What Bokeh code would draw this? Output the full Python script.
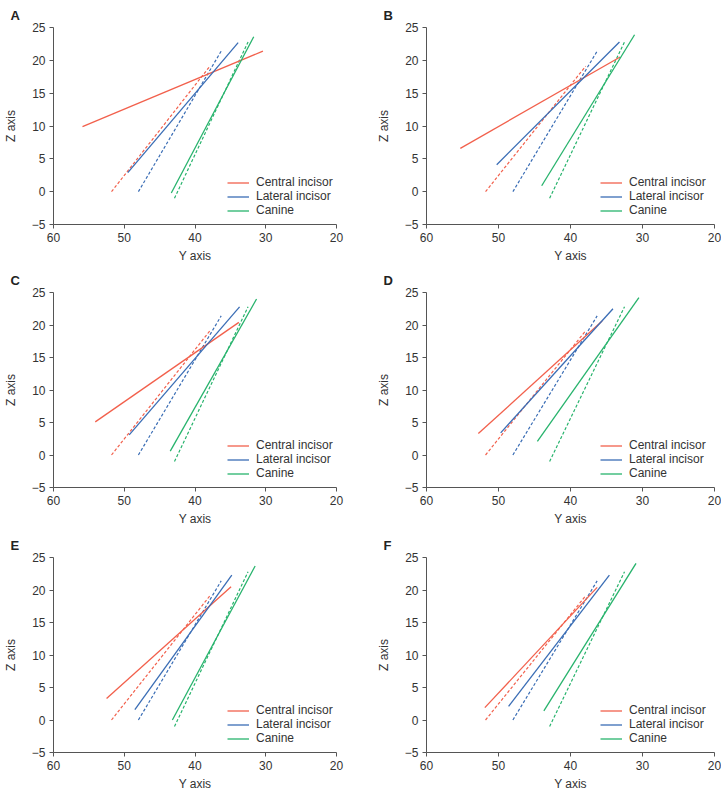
from bokeh.plotting import figure
from bokeh.models import Range1d, FixedTicker, Legend
from bokeh.layouts import column, row
from bokeh.embed import file_html
from bokeh.resources import INLINE

panel_names = ["A", "B", "C", "D", "E", "F"]
series_names = ["Central incisor", "Lateral incisor", "Canine"]

# Solid lines (per panel): [start, end] of Y axis and Z axis values
central_y = [[55.9, 30.4], [55.3, 33.1], [54.1, 33.8], [52.8, 35.6], [52.5, 34.9], [51.9, 36.3]]
central_z = [[9.9, 21.4], [6.6, 20.5], [5.1, 20.4], [3.3, 20.6], [3.3, 20.5], [1.9, 20.4]]
lateral_y = [[49.5, 33.9], [50.25, 33.2], [49.3, 33.7], [49.7, 34.1], [48.5, 34.8], [48.6, 34.6]]
lateral_z = [[2.9, 22.7], [4.1, 22.8], [3.1, 22.8], [3.4, 22.5], [1.6, 22.3], [2.1, 22.3]]
canine_y = [[43.35, 31.7], [44.0, 31.1], [43.5, 31.3], [44.6, 30.5], [43.2, 31.5], [43.7, 30.9]]
canine_z = [[-0.2, 23.6], [0.9, 23.9], [0.6, 24.0], [2.1, 24.2], [0.0, 23.7], [1.4, 24.1]]

# Dashed reference lines (same in every panel)
ref_central_y = [51.8, 37.9]
ref_central_z = [0.0, 19.1]
ref_lateral_y = [48.0, 36.3]
ref_lateral_z = [0.0, 21.4]
ref_canine_y = [42.9, 32.5]
ref_canine_z = [-1.0, 22.8]

x_ticks = [60, 50, 40, 30, 20]
y_ticks = [-5, 0, 5, 10, 15, 20, 25]

colors = ["#F2604C", "#3A6DB5", "#27B36C"]
FONT = "Liberation Sans"
TXT = "#333333"
AX = "#555555"


def make_panel(i, left_col, row_idx):
    width = 360 if left_col else 361
    height = [265, 263, 265][row_idx]
    top = [27, 27, 29][row_idx]
    bottom = height - 197 - top
    bl = 47 if left_col else 66
    br = 24 if left_col else 7
    p = figure(width=width, height=height, output_backend="svg", toolbar_location=None,
               x_range=Range1d(60, 20), y_range=Range1d(-5, 25),
               min_border_left=bl, min_border_right=br, min_border_top=top, min_border_bottom=bottom)
    p.outline_line_color = None
    p.grid.visible = False
    p.background_fill_color = "white"
    p.border_fill_color = "white"

    p.title.text = panel_names[i]
    p.title.align = "left"
    p.title.offset = -43
    p.title.standoff = 9
    p.title.text_font = FONT
    p.title.text_font_size = "13px"
    p.title.text_font_style = "bold"
    p.title.text_color = "#222222"

    refs = [(ref_central_y, ref_central_z), (ref_lateral_y, ref_lateral_z), (ref_canine_y, ref_canine_z)]
    for (ry, rz), c in zip(refs, colors):
        p.line(ry, rz, line_color=c, line_width=1.2, line_dash="3 2")

    sols = [(central_y[i], central_z[i]), (lateral_y[i], lateral_z[i]), (canine_y[i], canine_z[i])]
    items = []
    for (sy, sz), c, name in zip(sols, colors, series_names):
        r = p.line(sy, sz, line_color=c, line_width=1.3)
        items.append((name, [r]))

    leg = Legend(items=items, location=(174, 7), padding=0, margin=0, spacing=-1,
                 glyph_width=22, glyph_height=13, label_height=13, label_standoff=7,
                 label_text_font=FONT, label_text_font_size="12px", label_text_color=TXT,
                 border_line_alpha=0, background_fill_alpha=0)
    p.add_layout(leg, "center")

    for ax in (p.xaxis[0], p.yaxis[0]):
        ax.axis_line_color = AX
        ax.major_tick_line_color = AX
        ax.major_tick_out = 4
        ax.major_tick_in = 0
        ax.minor_tick_line_color = None
        ax.major_label_text_font = FONT
        ax.major_label_text_font_size = "12px"
        ax.major_label_text_color = TXT
        ax.axis_label_text_font = FONT
        ax.axis_label_text_font_size = "12px"
        ax.axis_label_text_font_style = "normal"
        ax.axis_label_text_color = TXT
        ax.major_label_standoff = 4
    p.xaxis[0].ticker = FixedTicker(ticks=x_ticks)
    p.yaxis[0].ticker = FixedTicker(ticks=y_ticks)
    p.xaxis[0].axis_label = "Y axis"
    p.yaxis[0].axis_label = "Z axis"
    p.xaxis[0].axis_label_standoff = 4
    p.yaxis[0].axis_label_standoff = 11
    p.yaxis[0].major_label_overrides = {-5: "\u22125"}
    return p


panels = []
for i in range(6):
    panels.append(make_panel(i, i % 2 == 0, i // 2))

layout = column(row(panels[0], panels[1]), row(panels[2], panels[3]), row(panels[4], panels[5]))

open("out.html", "w").write(file_html(layout, INLINE))
